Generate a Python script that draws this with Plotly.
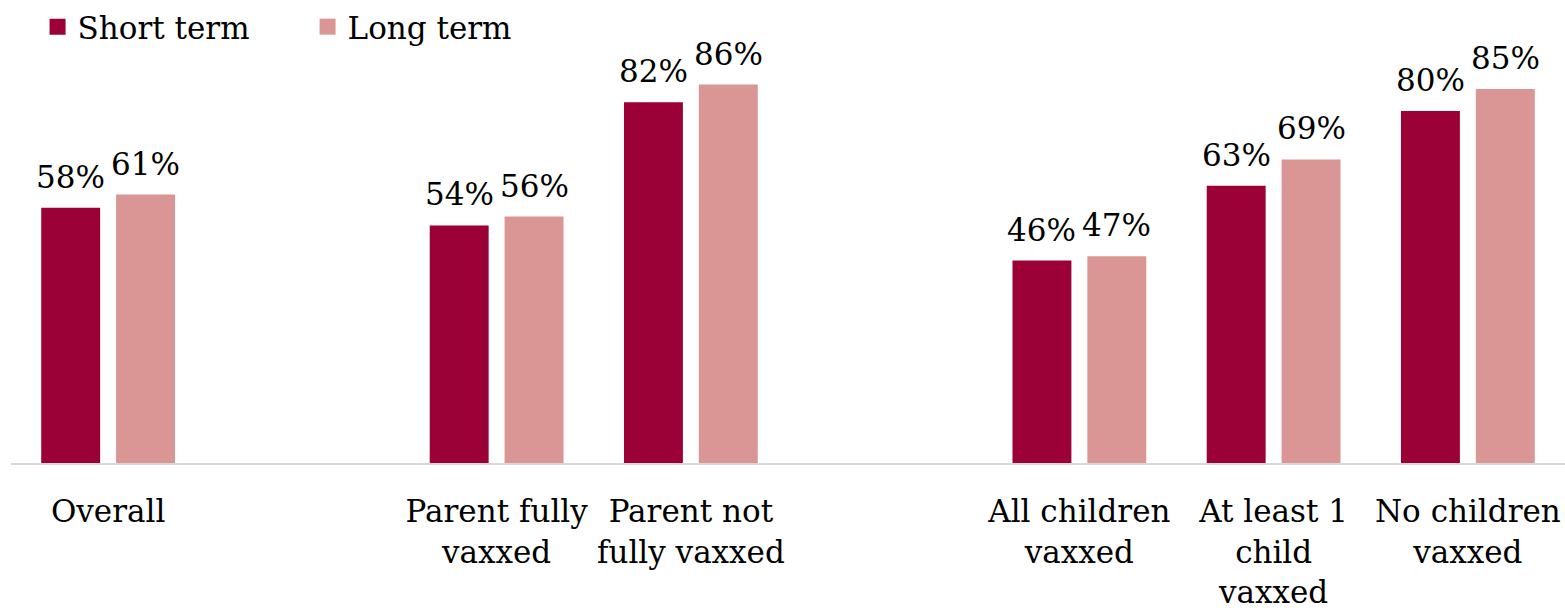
import plotly.graph_objects as go

categories = ["Overall", " ", "Parent fully<br>vaxxed", "Parent not<br>fully vaxxed", "  ",
              "All children<br>vaxxed", "At least 1<br>child<br>vaxxed", "No children<br>vaxxed"]
short_term = [58, None, 54, 82, None, 46, 63, 80]
long_term = [61, None, 56, 86, None, 47, 69, 85]
series_names = ["Short term", "Long term"]
colors = ["#9B0036", "#DA9694"]

FONT = "DejaVu Serif"
FS = 31
BARGAP = 0.229
BARGROUPGAP = 0.213

fig = go.Figure()
for name, vals, col in zip(series_names, [short_term, long_term], colors):
    fig.add_trace(go.Bar(x=list(range(len(categories))), y=vals, name=name,
                         marker=dict(color=col, line=dict(width=0)), showlegend=False))
    fig.add_trace(go.Scatter(x=[None], y=[None], mode="markers", name=name,
                             marker=dict(symbol="square", size=20, color=col), showlegend=True))

# value labels, centred over each bar of the group
half = (1 - BARGAP) / 4
for k, vals in enumerate([short_term, long_term]):
    off = -half if k == 0 else half
    for i, v in enumerate(vals):
        if v is None:
            continue
        fig.add_annotation(x=i + off, y=v, xref="x", yref="y", text=f"{v}%",
                           showarrow=False, yanchor="bottom", yshift=11,
                           font=dict(family=FONT, size=FS, color="#000000"))

fig.update_layout(
    width=1565, height=613,
    margin=dict(l=11, r=0, t=23, b=150, autoexpand=False),
    paper_bgcolor="white", plot_bgcolor="white",
    barmode="group", bargap=BARGAP, bargroupgap=BARGROUPGAP,
    font=dict(family=FONT, size=FS, color="#000000"),
    legend=dict(orientation="h", xref="container", yref="container", x=0.024, y=1.0,
                xanchor="left", yanchor="top", font=dict(family=FONT, size=FS),
                itemwidth=30, itemsizing="trace", entrywidth=225, entrywidthmode="pixels",
                tracegroupgap=0, bgcolor="rgba(0,0,0,0)"),
    xaxis=dict(tickmode="array", tickvals=list(range(len(categories))), ticktext=categories,
               range=[-0.5, len(categories) - 0.5], showline=True, linecolor="#D9D9D9",
               linewidth=2, ticks="", showgrid=False, zeroline=False, tickangle=0,
               automargin=False, ticklabelstandoff=20,
               tickfont=dict(family=FONT, size=FS, color="#000000")),
    yaxis=dict(range=[0, 100], showticklabels=False, showgrid=False, zeroline=False,
               showline=False, ticks="", automargin=False),
)

fig.write_html("out.html", config={"displayModeBar": False},
               post_script="document.body.style.margin='0';")
